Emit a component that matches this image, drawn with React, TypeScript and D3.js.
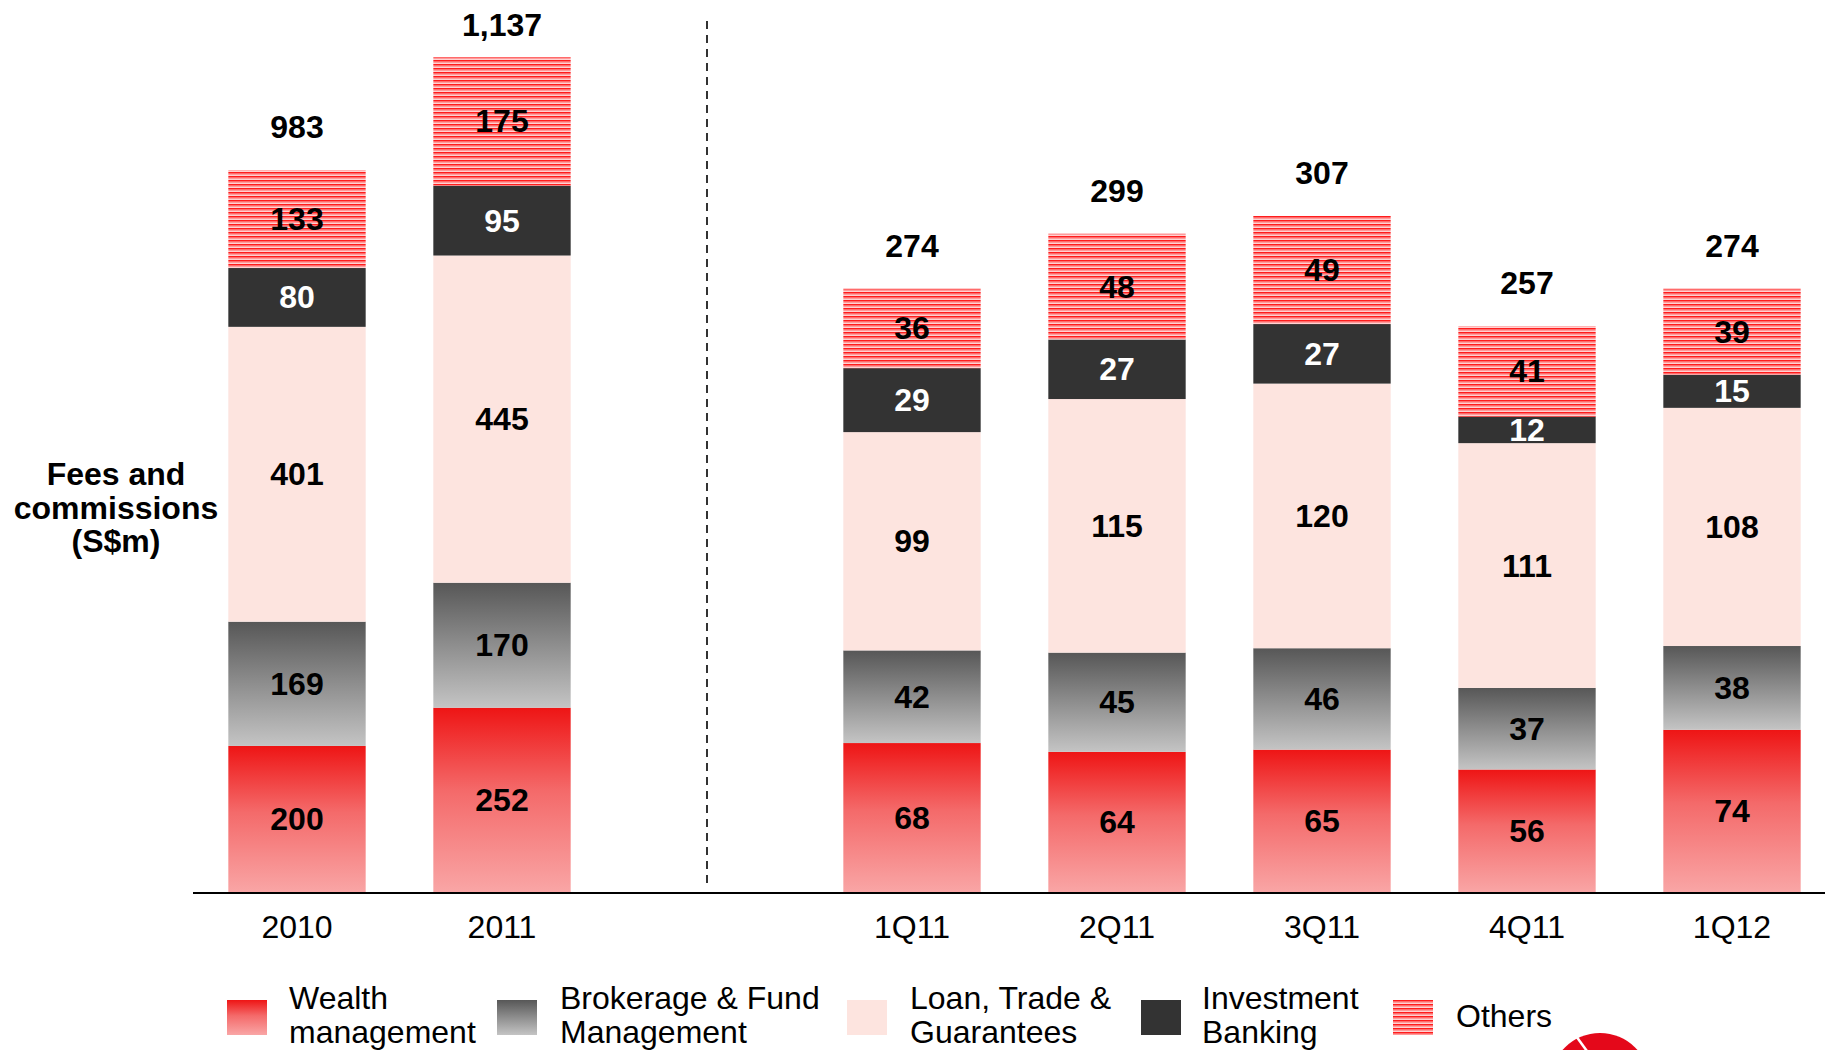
import React from "react";
import * as d3 from "d3";

const periods = ["2010", "2011", "1Q11", "2Q11", "3Q11", "4Q11", "1Q12"];
const periodKind = ["annual", "annual", "quarter", "quarter", "quarter", "quarter", "quarter"];
const slots = ["2010", "2011", "gap", "1Q11", "2Q11", "3Q11", "4Q11", "1Q12"];

const wealth = [200, 252, 68, 64, 65, 56, 74];
const brokerage = [169, 170, 42, 45, 46, 37, 38];
const loanTrade = [401, 445, 99, 115, 120, 111, 108];
const investmentBanking = [80, 95, 29, 27, 27, 12, 15];
const others = [133, 175, 36, 48, 49, 41, 39];
const totals = [983, 1137, 274, 299, 307, 257, 274];
const totalLabels = ["983", "1,137", "274", "299", "307", "257", "274"];

const seriesNames = ["Wealth management", "Brokerage & Fund Management", "Loan, Trade & Guarantees", "Investment Banking", "Others"];
const legendLines = [
  ["Wealth", "management"],
  ["Brokerage & Fund", "Management"],
  ["Loan, Trade &", "Guarantees"],
  ["Investment", "Banking"],
  ["Others"],
];
const seriesValues = [wealth, brokerage, loanTrade, investmentBanking, others];
const fills = ["url(#gWealth)", "url(#gBroker)", "#fde4df", "#333333", "url(#pOthers)"];
const labelColors = ["#000", "#000", "#000", "#fff", "#000"];

const W = 1825;
const H = 1050;
const baseY = 893;
const FONT = "'Liberation Sans', Arial, sans-serif";
const FS = 32;

export default function App() {
  const x = d3.scaleBand<string>().domain(slots).range([194.5, 1834.5]).paddingInner(0.33).paddingOuter(0.165);
  const yAnnual = d3.scaleLinear().domain([0, 1137]).range([baseY, 57]);
  const yQuarter = d3.scaleLinear().domain([0, 307]).range([baseY, 216]);
  const bw = x.bandwidth();

  const stacked = periods.map((p, i) => {
    const y = periodKind[i] === "annual" ? yAnnual : yQuarter;
    let acc = 0;
    return seriesValues.map((vals, s) => {
      const v = vals[i];
      const y0 = acc;
      acc += v;
      return { s, v, top: y(acc), bottom: y(y0) };
    });
  });

  const legendSwatchX = [227, 497, 847, 1141, 1393];
  const legendTextX = [289, 560, 910, 1202, 1456];

  return (
    <svg width={W} height={H} style={{ position: "absolute", left: 0, top: 0 }} fontFamily={FONT}>
      <defs>
        <linearGradient id="gWealth" x1="0" y1="0" x2="0" y2="1">
          <stop offset="0" stopColor="#ee1515" />
          <stop offset="0.45" stopColor="#f46a6a" />
          <stop offset="1" stopColor="#f9a6a6" />
        </linearGradient>
        <linearGradient id="gBroker" x1="0" y1="0" x2="0" y2="1">
          <stop offset="0" stopColor="#575757" />
          <stop offset="0.5" stopColor="#8e8e8e" />
          <stop offset="1" stopColor="#c4c4c4" />
        </linearGradient>
        <pattern id="pOthers" patternUnits="userSpaceOnUse" width="8" height="4">
          <rect x="0" y="0" width="8" height="4" fill="#ffd2d2" />
          <rect x="0" y="0" width="8" height="1.6" fill="#ff1c1c" />
          <rect x="0" y="1.6" width="8" height="1" fill="#ff7575" />
        </pattern>
      </defs>

      {/* bars */}
      {periods.map((p, i) => {
        const x0 = x(p)!;
        return (
          <g key={p}>
            {stacked[i].map((seg) => (
              <rect key={seg.s} x={x0} y={seg.top} width={bw} height={seg.bottom - seg.top} fill={fills[seg.s]} />
            ))}
            {stacked[i].map((seg) => (
              <text
                key={"t" + seg.s}
                x={x0 + bw / 2}
                y={(seg.top + seg.bottom) / 2}
                textAnchor="middle"
                dominantBaseline="central"
                fontSize={FS}
                fontWeight="bold"
                fill={labelColors[seg.s]}
              >
                {seg.v}
              </text>
            ))}
            <text
              x={x0 + bw / 2}
              y={Math.max(25, stacked[i][4].top - 43)}
              textAnchor="middle"
              dominantBaseline="central"
              fontSize={FS}
              fontWeight="bold"
              fill="#000"
            >
              {totalLabels[i]}
            </text>
            <text x={x0 + bw / 2} y={927} textAnchor="middle" dominantBaseline="central" fontSize={FS} fill="#000">
              {p}
            </text>
          </g>
        );
      })}

      {/* baseline */}
      <line x1={193} x2={W} y1={baseY} y2={baseY} stroke="#000" strokeWidth={2} />

      {/* divider */}
      <line
        x1={x("gap")! + bw / 2}
        x2={x("gap")! + bw / 2}
        y1={21}
        y2={884}
        stroke="#000"
        strokeWidth={1.6}
        strokeDasharray="8 6"
      />

      {/* y title */}
      <text x={116} y={474} textAnchor="middle" dominantBaseline="central" fontSize={FS} fontWeight="bold">Fees and</text>
      <text x={116} y={508} textAnchor="middle" dominantBaseline="central" fontSize={FS} fontWeight="bold">commissions</text>
      <text x={116} y={541} textAnchor="middle" dominantBaseline="central" fontSize={FS} fontWeight="bold">(S$m)</text>

      {/* legend */}
      {seriesNames.map((name, s) => (
        <g key={name}>
          <rect x={legendSwatchX[s]} y={1000} width={40} height={35} fill={fills[s]} />
          {legendLines[s].length === 1 ? (
            <text x={legendTextX[s]} y={1016} dominantBaseline="central" fontSize={FS}>{legendLines[s][0]}</text>
          ) : (
            legendLines[s].map((ln, k) => (
              <text key={k} x={legendTextX[s]} y={998 + k * 33.5} dominantBaseline="central" fontSize={FS}>{ln}</text>
            ))
          )}
        </g>
      ))}

      {/* logo fragment */}
      <circle cx={1600} cy={1083} r={50} fill="#e4081a" />
      <line x1={1576} x2={1592} y1={1036} y2={1058} stroke="#fff" strokeWidth={2.5} />
    </svg>
  );
}
